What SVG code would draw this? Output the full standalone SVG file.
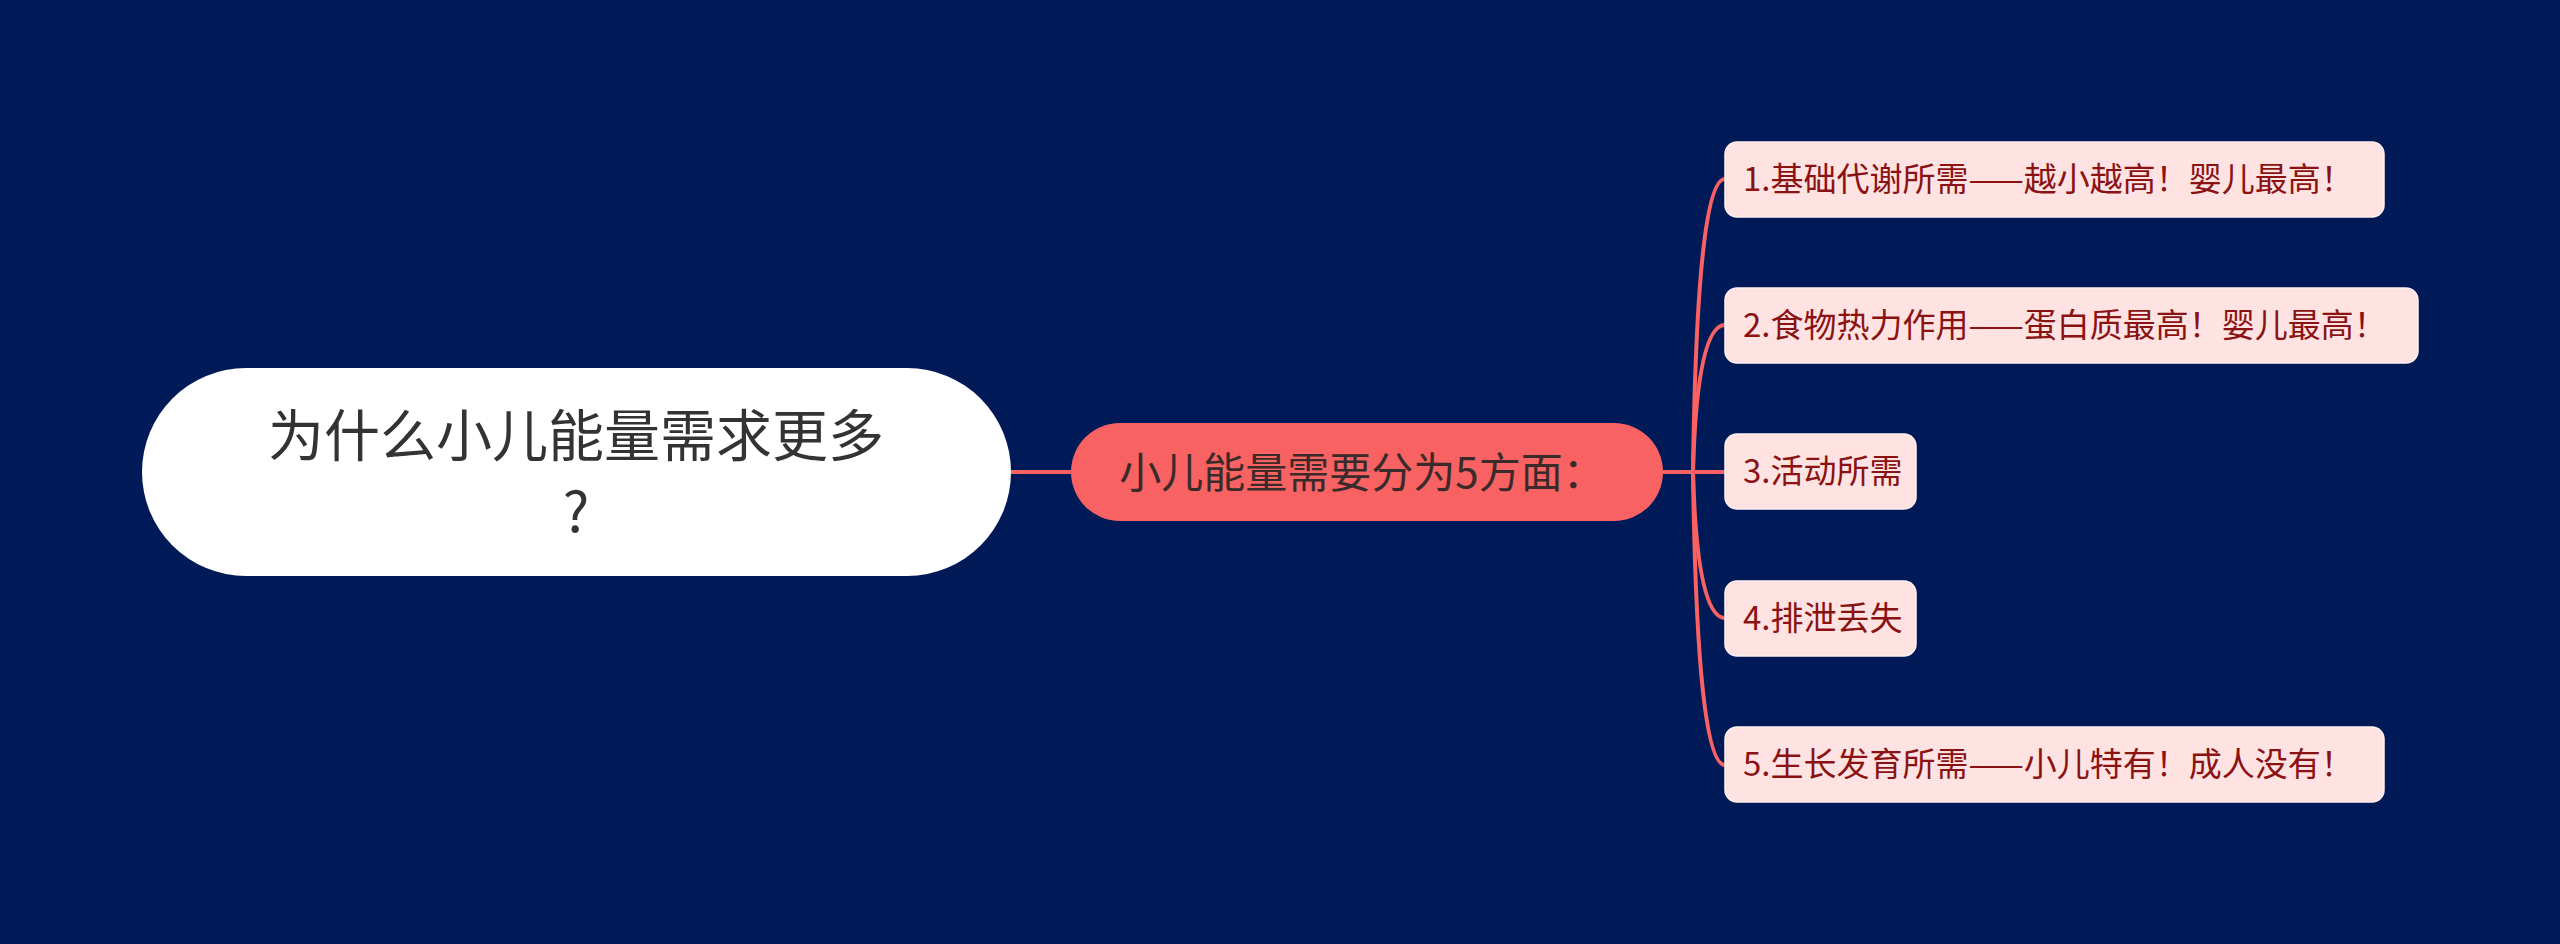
<svg xmlns="http://www.w3.org/2000/svg" width="2560" height="944" viewBox="0 0 2560 944">
<style>
text{font-family:"Noto Sans CJK SC","Noto Sans",sans-serif}
.root-t{font-size:56px;fill:#333333;text-anchor:middle}
.mid-t{font-size:42px;fill:#3a2a2a;text-anchor:middle}
.leaf{fill:#FFE2E2;stroke:#FFF0F0;stroke-width:1.5}
.leaf-t{font-size:33px;fill:#8B1212}
.conn{fill:none;stroke:#F86262;stroke-width:4;stroke-linecap:round}
</style>
<rect x="0" y="0" width="2560" height="944" fill="#001A57"/>
<g id="connectors">
<path class="conn" d="M1011 472 H1071"/>
<path class="conn" d="M1663 472 H1693 Q1697 179 1725 179"/>
<path class="conn" d="M1663 472 H1693 Q1697 325 1725 325"/>
<path class="conn" d="M1663 472 H1725"/>
<path class="conn" d="M1663 472 H1693 Q1697 618 1725 618"/>
<path class="conn" d="M1663 472 H1693 Q1697 765 1725 765"/>
</g>
<g id="root">
<rect x="142" y="368" width="869" height="208" rx="104" fill="#FFFFFF"/>
<text class="root-t" x="576" y="456">为什么小儿能量需求更多</text>
<text class="root-t" x="576" y="532">?</text>
</g>
<g id="center">
<rect x="1071" y="423" width="592" height="98" rx="49" fill="#F86262"/>
<text class="mid-t" x="1362" y="488">小儿能量需要分为5方面：</text>
</g>
<g id="leaf1">
<rect class="leaf" x="1725" y="142" width="659" height="75" rx="12"/>
<text class="leaf-t" x="1743" y="191">1.基础代谢所需——越小越高！婴儿最高！</text>
</g>
<g id="leaf2">
<rect class="leaf" x="1725" y="288" width="693" height="75" rx="12"/>
<text class="leaf-t" x="1743" y="337">2.食物热力作用——蛋白质最高！婴儿最高！</text>
</g>
<g id="leaf3">
<rect class="leaf" x="1725" y="434" width="191" height="75" rx="12"/>
<text class="leaf-t" x="1743" y="483">3.活动所需</text>
</g>
<g id="leaf4">
<rect class="leaf" x="1725" y="581" width="191" height="75" rx="12"/>
<text class="leaf-t" x="1743" y="630">4.排泄丢失</text>
</g>
<g id="leaf5">
<rect class="leaf" x="1725" y="727" width="659" height="75" rx="12"/>
<text class="leaf-t" x="1743" y="776">5.生长发育所需——小儿特有！成人没有！</text>
</g>
</svg>
